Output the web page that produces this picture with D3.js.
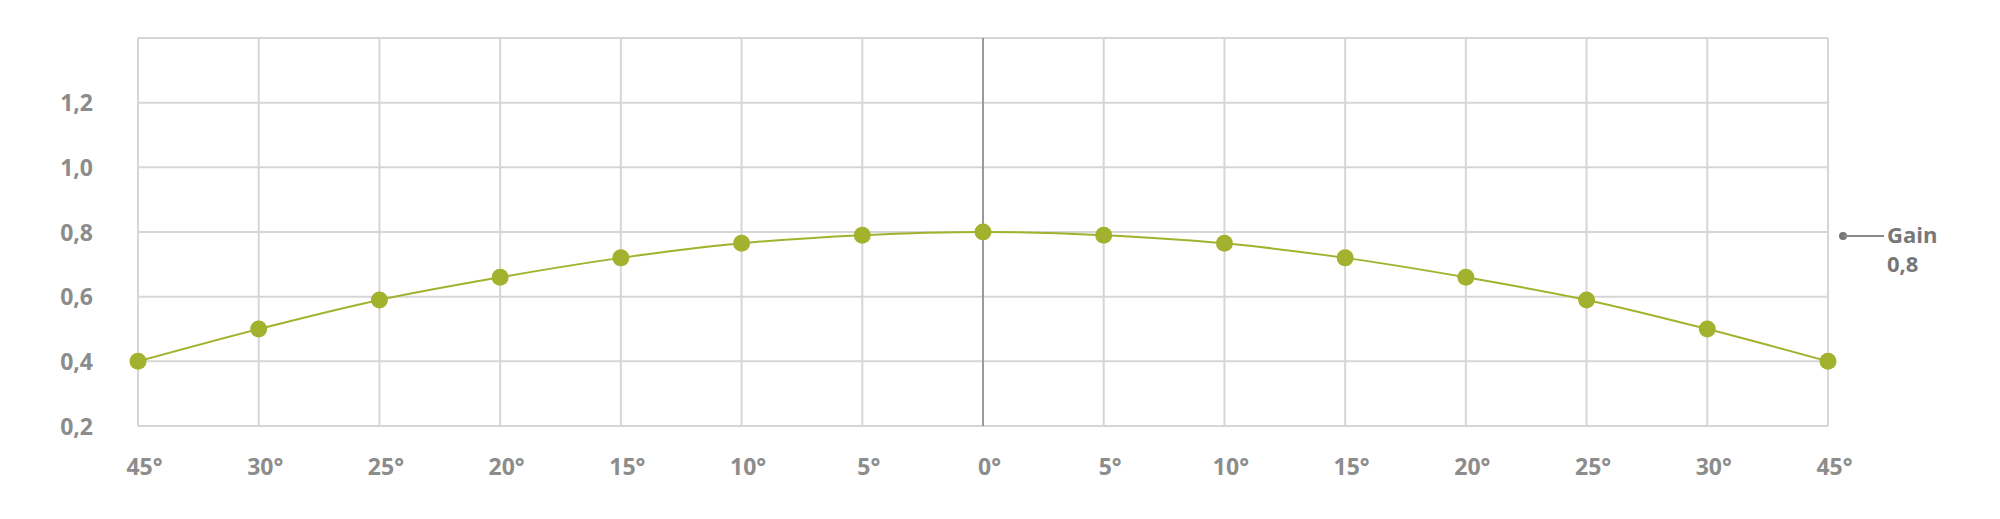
<!DOCTYPE html>
<html><head><meta charset="utf-8">
<script src="https://cdn.jsdelivr.net/npm/d3@7"></script>
<style>
html,body{margin:0;padding:0;background:#fff;}
svg{display:block;}
text{font-family:"Open Sans","DejaVu Sans",sans-serif;font-weight:700;}
</style></head>
<body>
<svg id="chart" width="2000" height="519"></svg>
<script>
const categories = ["45°","30°","25°","20°","15°","10°","5°","0°","5°","10°","15°","20°","25°","30°","45°"];
const gainValues = [0.4,0.5,0.59,0.66,0.72,0.765,0.79,0.8,0.79,0.765,0.72,0.66,0.59,0.5,0.4];
const yTicks = [0.2,0.4,0.6,0.8,1.0,1.2];
const seriesName = "Gain";
const seriesLabel = "0,8";

const svg = d3.select("#chart");
const m = {left:138, right:172, top:38, bottom:93};
const W = 2000, H = 519;
const iw = W - m.left - m.right, ih = H - m.top - m.bottom;
const g = svg.append("g").attr("transform",`translate(${m.left},${m.top})`);

const idx = categories.map((d,i)=>i);
const x = d3.scalePoint().domain(idx).range([0,iw]);
const y = d3.scaleLinear().domain([0.2,1.4]).range([ih,0]);

const grid = "#d6d6d6";
g.selectAll("line.h").data(yTicks.concat([1.4])).join("line")
  .attr("x1",0).attr("x2",iw).attr("y1",d=>y(d)).attr("y2",d=>y(d))
  .attr("stroke",grid).attr("stroke-width",2);
g.selectAll("line.v").data(idx).join("line")
  .attr("x1",d=>x(d)).attr("x2",d=>x(d)).attr("y1",0).attr("y2",ih)
  .attr("stroke",d=>d===7?"#9a9a9a":grid).attr("stroke-width",2);

const yAxis = d3.axisLeft(y).tickValues(yTicks).tickSize(0).tickPadding(45)
  .tickFormat(d=>d3.format(".1f")(d).replace(".",","));
const ya = g.append("g").call(yAxis);
ya.select(".domain").remove();
ya.selectAll("text").attr("fill","#8c8c8c").style("font-size","23px").attr("dy","0.35em");

const xAxis = d3.axisBottom(x).tickSize(0).tickPadding(33).tickFormat(i=>categories[i]);
const xa = g.append("g").attr("transform",`translate(0,${ih})`).call(xAxis);
xa.select(".domain").remove();
xa.selectAll("text").attr("fill","#8c8c8c").style("font-size","23px").attr("dx","6");

const green = "#a3b22e";
const line = d3.line().x((d,i)=>x(i)).y(d=>y(d)).curve(d3.curveMonotoneX);
g.append("path").datum(gainValues).attr("d",line).attr("fill","none")
  .attr("stroke",green).attr("stroke-width",2);
g.selectAll("circle.pt").data(gainValues).join("circle")
  .attr("cx",(d,i)=>x(i)).attr("cy",d=>y(d)).attr("r",8.5).attr("fill",green);

const ly = m.top + y(0.8) + 4;
const lg = svg.append("g");
lg.append("circle").attr("cx",1843).attr("cy",ly).attr("r",4).attr("fill","#777");
lg.append("line").attr("x1",1843).attr("x2",1884).attr("y1",ly).attr("y2",ly)
  .attr("stroke","#888").attr("stroke-width",2);
lg.append("text").attr("x",1887).attr("y",ly+7).text(seriesName)
  .attr("fill","#777").style("font-size","22px");
lg.append("text").attr("x",1887).attr("y",ly+36).text(seriesLabel)
  .attr("fill","#777").style("font-size","22px");
</script>
</body></html>
